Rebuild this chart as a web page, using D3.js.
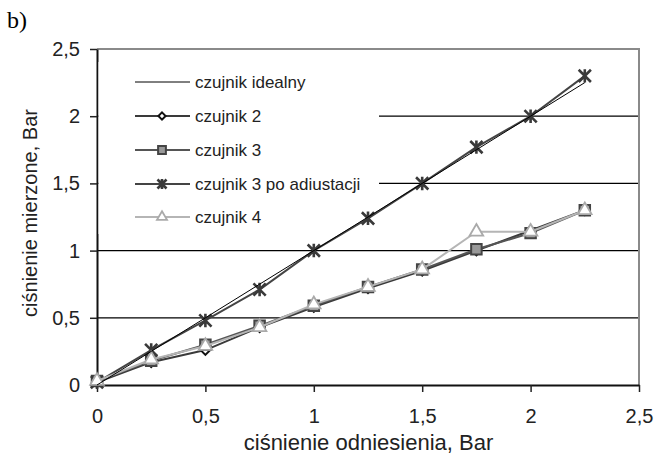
<!DOCTYPE html>
<html>
<head>
<meta charset="utf-8">
<script src="https://cdn.jsdelivr.net/npm/d3@7"></script>
<style>
  body { margin: 0; background: #fff; }
  svg { display: block; font-family: "Liberation Sans", Arial, sans-serif; }
</style>
</head>
<body>
<svg id="chart"></svg>
<script>
(() => {

  // dane
  const cisnienieOdn = [0, 0.25, 0.5, 0.75, 1, 1.25, 1.5, 1.75, 2, 2.25];
  const idealny = [0, 0.25, 0.5, 0.75, 1, 1.25, 1.5, 1.75, 2, 2.25];
  const czujnik2 = [0.02, 0.17, 0.26, 0.43, 0.58, 0.72, 0.85, 1.00, 1.15, 1.30];
  const czujnik3 = [0.03, 0.18, 0.30, 0.44, 0.59, 0.73, 0.86, 1.01, 1.13, 1.30];
  const czujnik3adj = [0.02, 0.26, 0.48, 0.71, 1.00, 1.24, 1.50, 1.77, 2.00, 2.30];
  const czujnik4 = [0.03, 0.19, 0.29, 0.43, 0.60, 0.73, 0.86, 1.14, 1.14, 1.30];
  const tickValues = [0, 0.5, 1, 1.5, 2, 2.5];
  const legendLabels = ['czujnik idealny', 'czujnik 2', 'czujnik 3', 'czujnik 3 po adiustacji', 'czujnik 4'];

  const svgWidth = 658;
  const svgHeight = 456;
  const plot = { left: 97, right: 639, top: 49, bottom: 385 };

  const svg = d3.select('#chart')
    .attr('width', svgWidth)
    .attr('height', svgHeight);

  const xScale = d3.scaleLinear().domain([0, 2.5]).range([plot.left, plot.right]);
  const yScale = d3.scaleLinear().domain([0, 2.5]).range([plot.bottom, plot.top]);
  const fmt = d => String(d).replace('.', ',');

  // excel-like star marker: X plus vertical bar
  const starType = {
    draw(ctx, size) {
      const r = Math.sqrt(size) / 2;
      ctx.moveTo(-r, -r); ctx.lineTo(r, r);
      ctx.moveTo(-r, r); ctx.lineTo(r, -r);
      ctx.moveTo(0, -r * 1.1); ctx.lineTo(0, r * 1.1);
    }
  };

  const series = [
    { name: legendLabels[0], values: idealny, color: '#000', width: 1, marker: null },
    { name: legendLabels[1], values: czujnik2, color: '#3a3a3a', width: 2,
      marker: { type: d3.symbolDiamond2, size: 60, fill: '#fff', stroke: '#111', sw: 2 } },
    { name: legendLabels[2], values: czujnik3, color: '#555', width: 2,
      marker: { type: d3.symbolSquare, size: 110, fill: '#999', stroke: '#444', sw: 2 } },
    { name: legendLabels[3], values: czujnik3adj, color: '#444', width: 2,
      marker: { type: starType, size: 150, fill: 'none', stroke: '#3a3a3a', sw: 2.6 } },
    { name: legendLabels[4], values: czujnik4, color: '#b5b5b5', width: 2,
      marker: { type: d3.symbolTriangle, size: 80, fill: '#fff', stroke: '#aaa', sw: 1.8 } }
  ];

  // label b)
  svg.append('text')
    .attr('x', 7).attr('y', 28)
    .attr('font-family', '"Liberation Serif", "Times New Roman", serif')
    .attr('font-size', 24)
    .text('b)');

  // gridlines
  svg.append('g')
    .selectAll('line')
    .data([0.5, 1, 1.5, 2])
    .enter().append('line')
    .attr('x1', plot.left).attr('x2', plot.right)
    .attr('y1', d => yScale(d)).attr('y2', d => yScale(d))
    .attr('stroke', '#000').attr('stroke-width', 1.2);

  // top and right frame
  svg.append('path')
    .attr('d', `M${plot.left},${plot.top}H${plot.right}V${plot.bottom}`)
    .attr('fill', 'none').attr('stroke', '#8a8a8a').attr('stroke-width', 2);

  // axes
  const xAxis = svg.append('g')
    .attr('transform', `translate(0, ${plot.bottom})`)
    .call(d3.axisBottom(xScale).tickValues(tickValues).tickFormat(fmt)
      .tickSize(7).tickSizeOuter(0).tickPadding(17));

  const yAxis = svg.append('g')
    .attr('transform', `translate(${plot.left}, 0)`)
    .call(d3.axisLeft(yScale).tickValues(tickValues).tickFormat(fmt)
      .tickSize(7).tickSizeOuter(0).tickPadding(10));

  [xAxis, yAxis].forEach(ax => {
    ax.select('.domain').attr('stroke', '#111').attr('stroke-width', 2);
    ax.selectAll('.tick line').attr('stroke', '#222').attr('stroke-width', 1.5);
    ax.selectAll('.tick text')
      .attr('font-family', '"Liberation Sans", Arial, sans-serif')
      .attr('font-size', 20).attr('fill', '#222');
  });

  // axis titles
  svg.append('text')
    .attr('x', (plot.left + plot.right) / 2 + 0.5).attr('y', 450)
    .attr('text-anchor', 'middle')
    .attr('font-size', 22).attr('fill', '#222')
    .text('ciśnienie odniesienia, Bar');

  svg.append('text')
    .attr('transform', `translate(37, ${213}) rotate(-90)`)
    .attr('text-anchor', 'middle')
    .attr('font-size', 20).attr('fill', '#222')
    .text('ciśnienie mierzone, Bar');

  // legend background hides part of the gridlines
  const legend = svg.append('g');
  legend.append('rect')
    .attr('x', plot.left + 1.5).attr('y', 62)
    .attr('width', 379 - plot.left - 1.5).attr('height', 172)
    .attr('fill', '#fff');

  // series
  const line = d3.line()
    .x((d, i) => xScale(cisnienieOdn[i]))
    .y(d => yScale(d));

  const drawOrder = [1, 2, 3, 4, 0];
  drawOrder.forEach(k => {
    const s = series[k];
    svg.append('path')
      .datum(s.values)
      .attr('fill', 'none')
      .attr('stroke', s.color)
      .attr('stroke-width', s.width)
      .attr('stroke-linejoin', 'round')
      .attr('d', line);
    if (s.marker) {
      const m = s.marker;
      svg.append('g').selectAll('path')
        .data(s.values)
        .enter().append('path')
        .attr('transform', (d, i) => `translate(${xScale(cisnienieOdn[i])}, ${yScale(d)})`)
        .attr('d', d3.symbol().type(m.type).size(m.size))
        .attr('fill', m.fill)
        .attr('stroke', m.stroke)
        .attr('stroke-width', m.sw);
    }
  });

  // legend entries
  const rowY = [82, 116, 150, 184, 217];
  series.forEach((s, i) => {
    const g = legend.append('g').attr('transform', `translate(0, ${rowY[i]})`);
    g.append('line')
      .attr('x1', 135).attr('x2', 190)
      .attr('stroke', s.color).attr('stroke-width', s.width);
    if (s.marker) {
      const m = s.marker;
      g.append('path')
        .attr('transform', 'translate(162, 0)')
        .attr('d', d3.symbol().type(m.type).size(m.size * 0.55))
        .attr('fill', m.fill).attr('stroke', m.stroke).attr('stroke-width', m.sw);
    }
    g.append('text')
      .attr('x', 195).attr('y', 6)
      .attr('font-size', 17).attr('fill', '#222')
      .text(s.name);
  });

})();
</script>
</body>
</html>
